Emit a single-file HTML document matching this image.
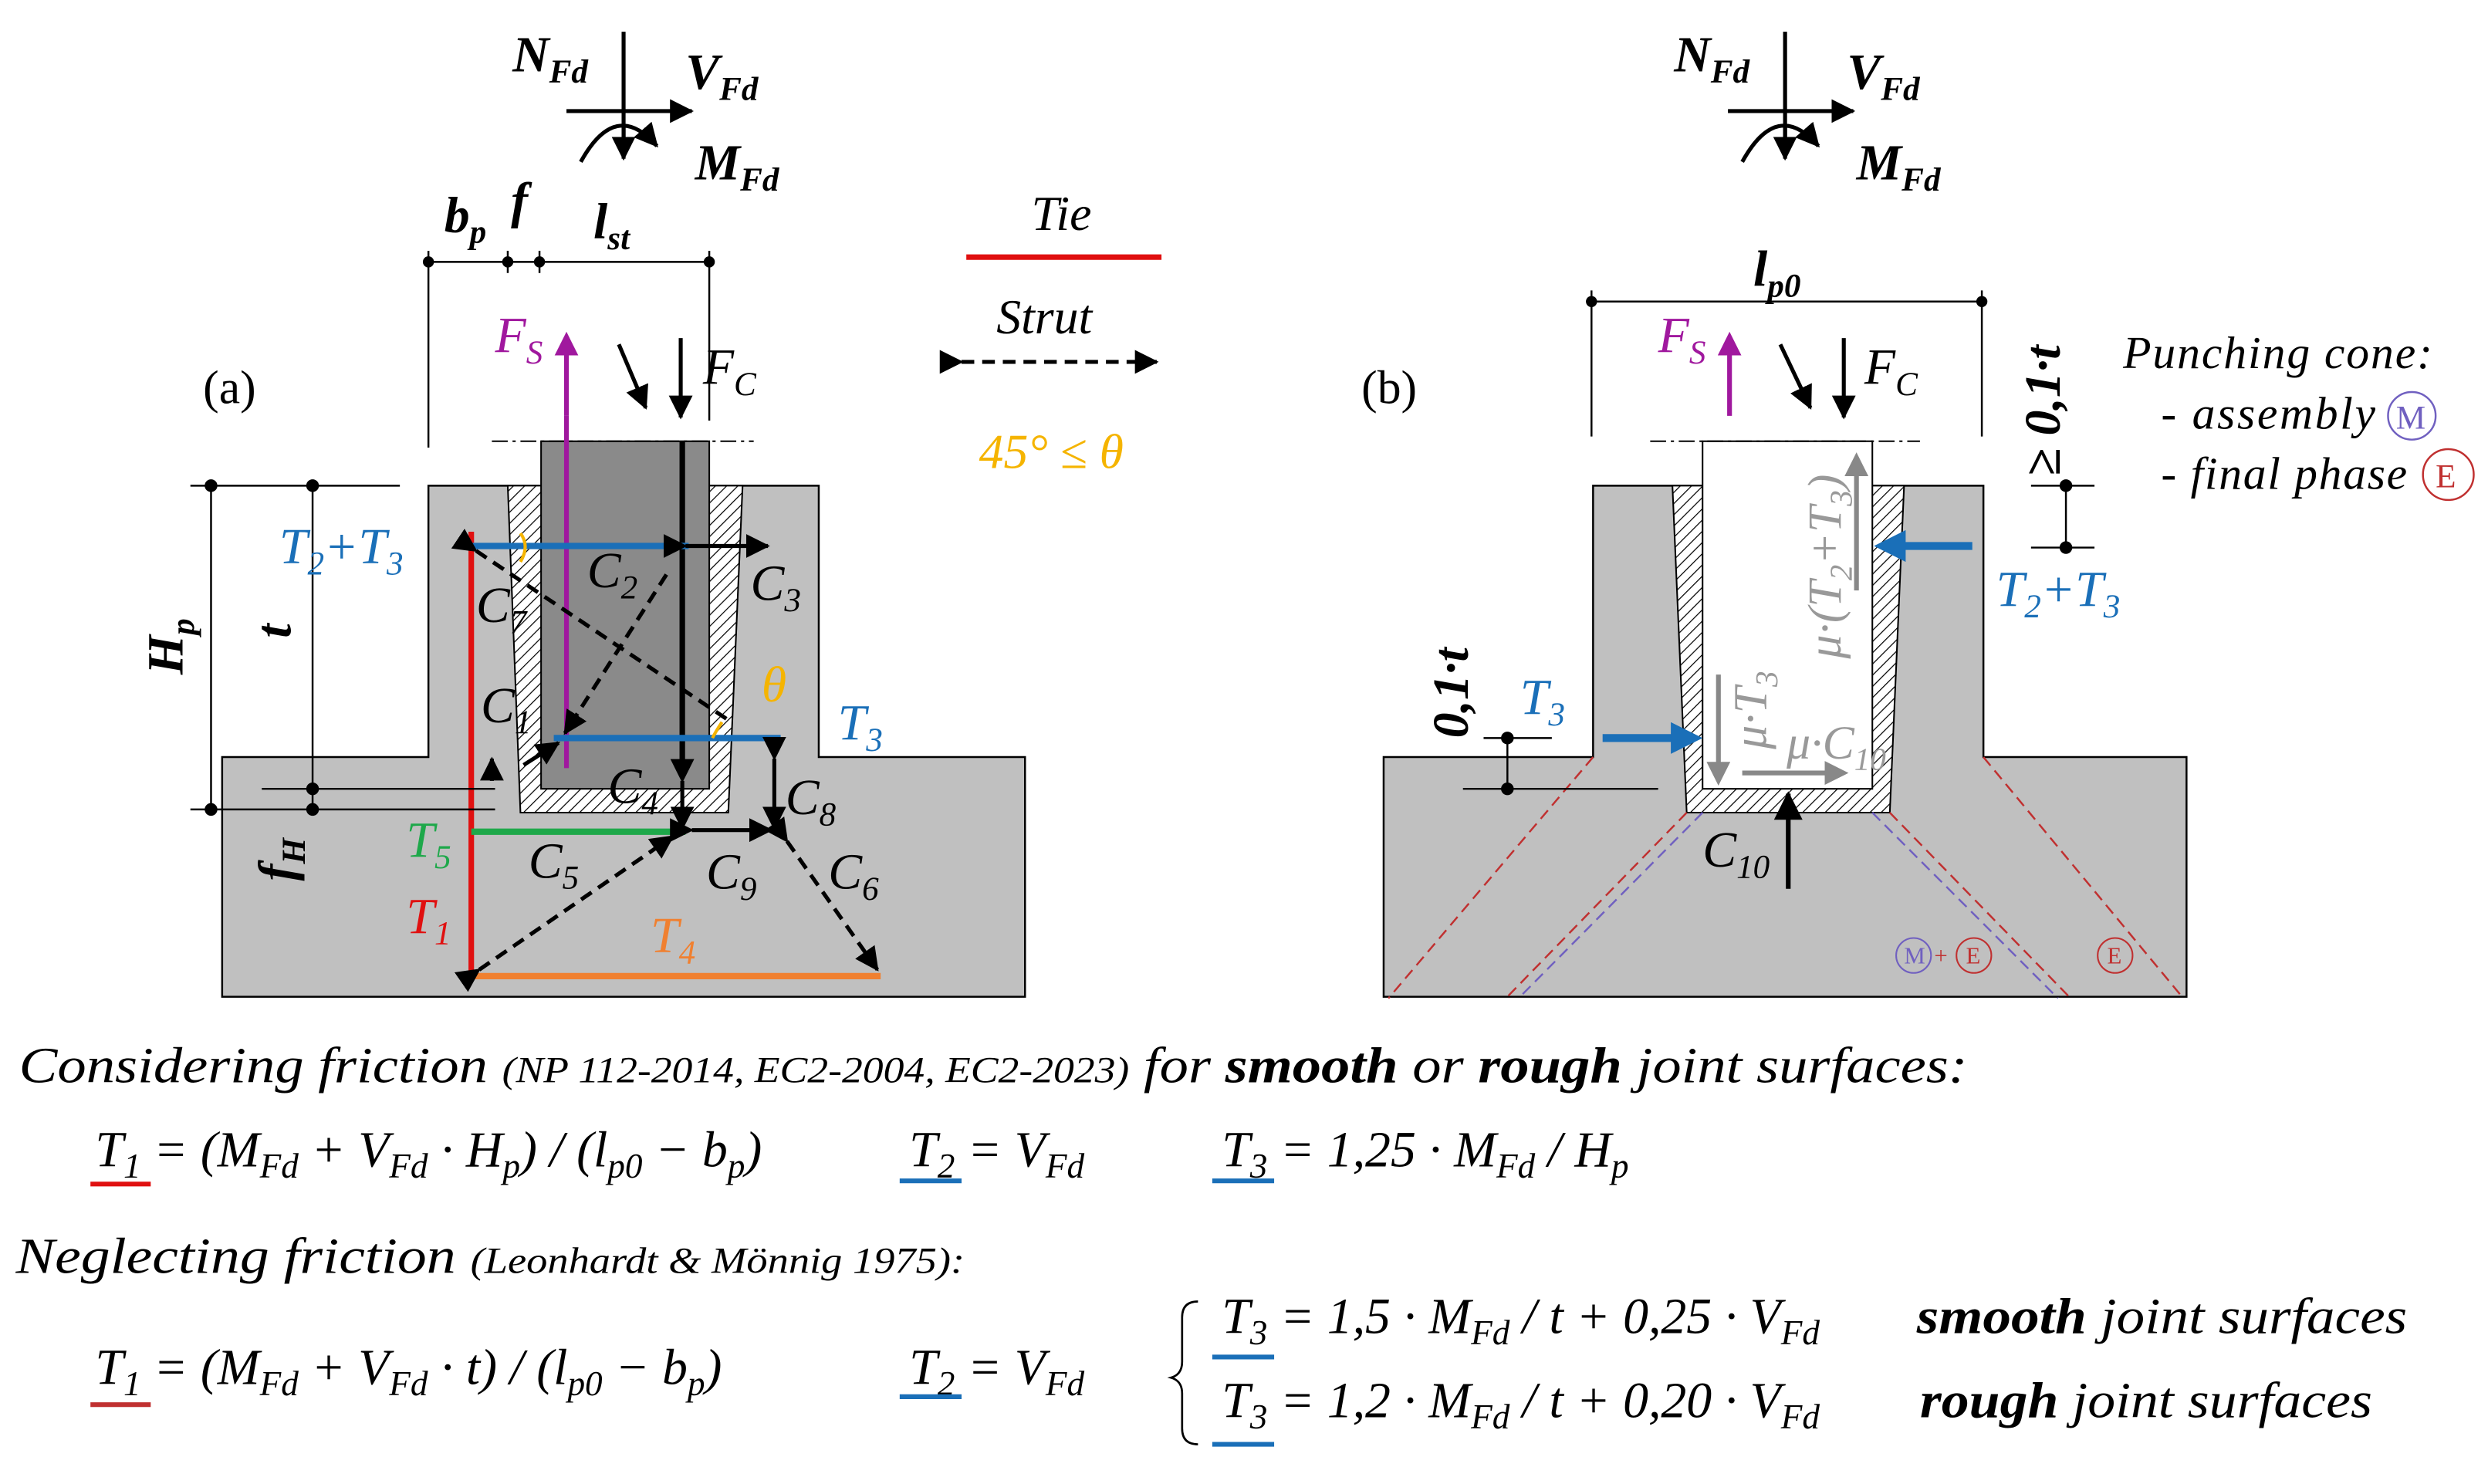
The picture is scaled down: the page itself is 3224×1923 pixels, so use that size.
<!DOCTYPE html>
<html><head><meta charset="utf-8"><style>html,body{margin:0;padding:0;background:#fff}svg{display:block;font-family:"Liberation Serif",serif;font-style:italic}</style></head><body>
<svg width="3224" height="1923" viewBox="0 0 1568 935" preserveAspectRatio="none" xmlns="http://www.w3.org/2000/svg" style="font-family:'Liberation Serif',serif;font-style:italic">
<defs>
<pattern id="h" width="5" height="5" patternUnits="userSpaceOnUse" patternTransform="rotate(45)"><rect width="5" height="5" fill="#fff"/><line x1="0" y1="0" x2="0" y2="5" stroke="#000" stroke-width="1.2"/></pattern>
<marker id="ap" markerWidth="5" markerHeight="5" refX="4" refY="2.5" orient="auto" markerUnits="strokeWidth"><path d="M0,0 L5,2.5 L0,5z" fill="#a0189e"/></marker>
<marker id="abl" markerWidth="4" markerHeight="4" refX="3" refY="2" orient="auto" markerUnits="strokeWidth"><path d="M0,0 L4,2 L0,4z" fill="#1a6fb8"/></marker>
<marker id="ag" markerWidth="5" markerHeight="5" refX="4" refY="2.5" orient="auto" markerUnits="strokeWidth"><path d="M0,0 L5,2.5 L0,5z" fill="#888"/></marker>
<marker id="as" markerWidth="6" markerHeight="6" refX="5.5" refY="3" orient="auto" markerUnits="strokeWidth"><path d="M0,0 L6,3 L0,6z" fill="#000"/></marker>
</defs>
<rect width="1568" height="935" fill="#fff"/>

<!-- ===== (a) ===== -->
<path d="M140,477 H270 V306 H516 V477 H646 V628 H140Z" fill="#c0c0c0" stroke="#000" stroke-width="1.2"/>
<path d="M320,306 H468 L459,512 H328Z" fill="url(#h)" stroke="#000" stroke-width="1"/>
<rect x="341" y="278" width="106" height="219" fill="#8a8a8a" stroke="#000" stroke-width="1"/>
<line x1="310" y1="278" x2="475" y2="278" stroke="#000" stroke-width="1" stroke-dasharray="10,3,2,3"/>
<line x1="357" y1="262" x2="357" y2="484" stroke="#a0189e" stroke-width="3"/>
<line x1="430" y1="278" x2="430" y2="488" stroke="#000" stroke-width="3.5"/>
<line x1="297" y1="335" x2="297" y2="617" stroke="#e01010" stroke-width="3.5"/>
<line x1="297" y1="344" x2="434" y2="344" stroke="#1a6fb8" stroke-width="4"/>
<line x1="349" y1="465" x2="492" y2="465" stroke="#1a6fb8" stroke-width="4"/>
<line x1="297" y1="524" x2="432" y2="524" stroke="#1ea84a" stroke-width="4"/>
<line x1="297" y1="615" x2="555" y2="615" stroke="#f08030" stroke-width="4"/>
<g stroke="#000" stroke-width="2.5" stroke-dasharray="8,5" fill="none">
<line x1="300" y1="347" x2="458" y2="453" marker-start="url(#as)"/>
<line x1="420" y1="362" x2="356" y2="462" marker-end="url(#as)"/>
<line x1="302" y1="611" x2="424" y2="527" marker-start="url(#as)" marker-end="url(#as)"/>
<line x1="496" y1="530" x2="553" y2="611" marker-start="url(#as)" marker-end="url(#as)"/>
</g>
<g stroke="#000" stroke-width="2.5" fill="none">
<line x1="432" y1="344" x2="484" y2="344" marker-start="url(#as)" marker-end="url(#as)"/>
<line x1="430" y1="492" x2="430" y2="522" marker-start="url(#as)" marker-end="url(#as)"/>
<line x1="436" y1="523" x2="486" y2="523" marker-start="url(#as)" marker-end="url(#as)"/>
<line x1="488" y1="478" x2="488" y2="522" marker-start="url(#as)" marker-end="url(#as)"/>
<line x1="310" y1="492" x2="310" y2="478" marker-end="url(#as)"/>
<line x1="330" y1="482" x2="352" y2="468" marker-end="url(#as)"/>
</g>
<path d="M328,336 q6,8 0,18 M455,455 q-4,6 -6,10" stroke="#f5b400" stroke-width="2" fill="none"/>
<g stroke="#000" stroke-width="1.2">
<line x1="120" y1="306" x2="252" y2="306"/><line x1="120" y1="510" x2="312" y2="510"/><line x1="165" y1="497" x2="312" y2="497"/>
<line x1="133" y1="306" x2="133" y2="510"/><line x1="197" y1="306" x2="197" y2="510"/>
<line x1="270" y1="165" x2="447" y2="165"/><line x1="270" y1="158" x2="270" y2="282"/><line x1="447" y1="158" x2="447" y2="265"/>
<line x1="320" y1="158" x2="320" y2="172"/><line x1="340" y1="158" x2="340" y2="172"/>
</g>
<g fill="#000"><circle cx="133" cy="306" r="4"/><circle cx="133" cy="510" r="4"/><circle cx="197" cy="306" r="4"/><circle cx="197" cy="497" r="4"/><circle cx="197" cy="510" r="4"/>
<circle cx="270" cy="165" r="3.5"/><circle cx="320" cy="165" r="3.5"/><circle cx="340" cy="165" r="3.5"/><circle cx="447" cy="165" r="3.5"/></g>

<g font-size="32" font-weight="bold">
<text x="280" y="146">b<tspan font-size="21" dy="7">p</tspan></text>
<text x="322" y="137">f</text>
<text x="374" y="150">l<tspan font-size="21" dy="7">st</tspan></text>
<text transform="translate(115,425) rotate(-90)">H<tspan font-size="21" dy="7">p</tspan></text>
<text transform="translate(183,402) rotate(-90)">t</text>
<text transform="translate(185,555) rotate(-90)">f<tspan font-size="21" dy="7">H</tspan></text>
</g>
<text x="128" y="254" font-size="30" font-style="normal">(a)</text>
<line x1="357" y1="262" x2="357" y2="212" stroke="#a0189e" stroke-width="3" marker-end="url(#ap)"/>
<text x="312" y="222" font-size="32" fill="#a0189e">F<tspan font-size="21" dy="7">S</tspan></text>
<line x1="390" y1="217" x2="407" y2="257" stroke="#000" stroke-width="2.5" marker-end="url(#as)"/>
<line x1="429" y1="213" x2="429" y2="263" stroke="#000" stroke-width="2.5" marker-end="url(#as)"/>
<text x="443" y="242" font-size="32">F<tspan font-size="21" dy="7">C</tspan></text>
<g font-size="32">
<text x="176" y="355" fill="#1a6fb8">T<tspan font-size="21" dy="7">2</tspan><tspan dy="-7">+T</tspan><tspan font-size="21" dy="7">3</tspan></text>
<text x="370" y="370">C<tspan font-size="21" dy="7">2</tspan></text>
<text x="473" y="378">C<tspan font-size="21" dy="7">3</tspan></text>
<text x="300" y="392">C<tspan font-size="21" dy="7">7</tspan></text>
<text x="303" y="455">C<tspan font-size="21" dy="7">1</tspan></text>
<text x="480" y="442" fill="#f5b400">θ</text>
<text x="528" y="466" fill="#1a6fb8">T<tspan font-size="21" dy="7">3</tspan></text>
<text x="383" y="506">C<tspan font-size="21" dy="7">4</tspan></text>
<text x="495" y="513">C<tspan font-size="21" dy="7">8</tspan></text>
<text x="256" y="540" fill="#1ea84a">T<tspan font-size="21" dy="7">5</tspan></text>
<text x="333" y="553">C<tspan font-size="21" dy="7">5</tspan></text>
<text x="445" y="560">C<tspan font-size="21" dy="7">9</tspan></text>
<text x="522" y="560">C<tspan font-size="21" dy="7">6</tspan></text>
<text x="256" y="588" fill="#e01010">T<tspan font-size="21" dy="7">1</tspan></text>
<text x="410" y="600" fill="#f08030">T<tspan font-size="21" dy="7">4</tspan></text>
</g>

<text x="650" y="145" font-size="31">Tie</text>
<line x1="609" y1="162" x2="732" y2="162" stroke="#e01010" stroke-width="3.5"/>
<text x="628" y="210" font-size="31">Strut</text>
<line x1="606" y1="228" x2="729" y2="228" stroke="#000" stroke-width="2.5" stroke-dasharray="8,5" marker-start="url(#as)" marker-end="url(#as)"/>
<text x="617" y="295" font-size="31" fill="#f5b400">45° ≤ θ</text>

<g id="loads">
<line x1="393" y1="20" x2="393" y2="92" stroke="#000" stroke-width="2.5"/>
<line x1="357" y1="70" x2="436" y2="70" stroke="#000" stroke-width="2.5" marker-end="url(#as)"/>
<path d="M366,102 Q388,62 414,92" stroke="#000" stroke-width="2.5" fill="none" marker-end="url(#as)"/>
<line x1="393" y1="80" x2="393" y2="100" stroke="#000" stroke-width="2.5" marker-end="url(#as)"/>
<text x="323" y="45" font-size="32" font-weight="bold">N<tspan font-size="21" dy="7">Fd</tspan></text>
<text x="432" y="56" font-size="32" font-weight="bold">V<tspan font-size="21" dy="7">Fd</tspan></text>
<text x="438" y="113" font-size="32" font-weight="bold">M<tspan font-size="21" dy="7">Fd</tspan></text>
</g>
<use href="#loads" transform="translate(732,0)"/>

<!-- ===== (b) ===== -->
<path d="M872,477 H1004 V306 H1250 V477 H1378 V628 H872Z" fill="#c0c0c0" stroke="#000" stroke-width="1.2"/>
<path d="M1054,306 H1200 L1191,512 H1063Z" fill="url(#h)" stroke="#000" stroke-width="1"/>
<rect x="1073" y="278" width="107" height="219" fill="#fff" stroke="#000" stroke-width="1"/>
<line x1="1040" y1="278" x2="1210" y2="278" stroke="#000" stroke-width="1" stroke-dasharray="10,3,2,3"/>
<g stroke-width="1.2" stroke-dasharray="7,4" fill="none">
<line x1="1004" y1="477" x2="875" y2="629" stroke="#c03030"/>
<line x1="1063" y1="512" x2="949" y2="629" stroke="#c03030"/>
<line x1="1073" y1="512" x2="957" y2="629" stroke="#7060c0"/>
<line x1="1250" y1="477" x2="1376" y2="629" stroke="#c03030"/>
<line x1="1191" y1="512" x2="1305" y2="629" stroke="#c03030"/>
<line x1="1180" y1="512" x2="1297" y2="629" stroke="#7060c0"/>
</g>
<g stroke="#000" stroke-width="1.2">
<line x1="1003" y1="190" x2="1249" y2="190"/><line x1="1003" y1="183" x2="1003" y2="275"/><line x1="1249" y1="183" x2="1249" y2="275"/>
<line x1="1280" y1="306" x2="1320" y2="306"/><line x1="1280" y1="345" x2="1320" y2="345"/><line x1="1302" y1="306" x2="1302" y2="345"/>
<line x1="935" y1="465" x2="978" y2="465"/><line x1="922" y1="497" x2="1045" y2="497"/><line x1="950" y1="465" x2="950" y2="497"/>
</g>
<g fill="#000"><circle cx="1003" cy="190" r="3.5"/><circle cx="1249" cy="190" r="3.5"/><circle cx="1302" cy="306" r="4"/><circle cx="1302" cy="345" r="4"/><circle cx="950" cy="465" r="4"/><circle cx="950" cy="497" r="4"/></g>
<text x="1105" y="180" font-size="32" font-weight="bold">l<tspan font-size="21" dy="7">p0</tspan></text>
<text transform="translate(1298,300) rotate(-90)" font-size="32" font-weight="bold">≥ 0,1·t</text>
<text transform="translate(925,465) rotate(-90)" font-size="32" font-weight="bold">0,1·t</text>
<text x="858" y="254" font-size="30" font-style="normal">(b)</text>
<line x1="1090" y1="262" x2="1090" y2="212" stroke="#a0189e" stroke-width="3" marker-end="url(#ap)"/>
<text x="1045" y="222" font-size="32" fill="#a0189e">F<tspan font-size="21" dy="7">S</tspan></text>
<line x1="1122" y1="217" x2="1141" y2="257" stroke="#000" stroke-width="2.5" marker-end="url(#as)"/>
<line x1="1162" y1="213" x2="1162" y2="263" stroke="#000" stroke-width="2.5" marker-end="url(#as)"/>
<text x="1175" y="242" font-size="32">F<tspan font-size="21" dy="7">C</tspan></text>
<line x1="1243" y1="344" x2="1186" y2="344" stroke="#1a6fb8" stroke-width="5" marker-end="url(#abl)"/>
<line x1="1010" y1="465" x2="1068" y2="465" stroke="#1a6fb8" stroke-width="5" marker-end="url(#abl)"/>
<text x="1258" y="382" font-size="32" fill="#1a6fb8">T<tspan font-size="21" dy="7">2</tspan><tspan dy="-7">+T</tspan><tspan font-size="21" dy="7">3</tspan></text>
<text x="958" y="450" font-size="32" fill="#1a6fb8">T<tspan font-size="21" dy="7">3</tspan></text>
<g stroke="#888" stroke-width="3" fill="none">
<line x1="1170" y1="372" x2="1170" y2="288" marker-end="url(#ag)"/>
<line x1="1083" y1="425" x2="1083" y2="492" marker-end="url(#ag)"/>
<line x1="1098" y1="487" x2="1162" y2="487" marker-end="url(#ag)"/>
</g>
<g font-size="30" fill="#999">
<text transform="translate(1160,415) rotate(-90)">μ·(T<tspan font-size="20" dy="7">2</tspan><tspan dy="-7">+T</tspan><tspan font-size="20" dy="7">3</tspan><tspan dy="-7">)</tspan></text>
<text transform="translate(1113,472) rotate(-90)">μ·T<tspan font-size="20" dy="7">3</tspan></text>
<text x="1126" y="478">μ·C<tspan font-size="20" dy="7">10</tspan></text>
</g>
<line x1="1127" y1="560" x2="1127" y2="500" stroke="#000" stroke-width="3" marker-end="url(#as)"/>
<text x="1073" y="546" font-size="32">C<tspan font-size="21" dy="7">10</tspan></text>
<g font-size="15" font-style="normal">
<circle cx="1206" cy="602" r="11" fill="none" stroke="#7060c0"/><text x="1200" y="607" fill="#7060c0">M</text>
<text x="1219" y="607" fill="#c03030">+</text>
<circle cx="1244" cy="602" r="11" fill="none" stroke="#c03030"/><text x="1239" y="607" fill="#c03030">E</text>
<circle cx="1333" cy="602" r="11" fill="none" stroke="#c03030"/><text x="1328" y="607" fill="#c03030">E</text>
</g>
<g font-size="29">
<text x="1338" y="232" textLength="195">Punching cone:</text>
<text x="1362" y="270" textLength="135">- assembly</text>
<text x="1362" y="308" textLength="155">- final phase</text>
</g>
<circle cx="1520" cy="262" r="15" fill="none" stroke="#7060c0" stroke-width="1.2"/><text x="1510" y="270" font-size="21" font-style="normal" fill="#7060c0">M</text>
<circle cx="1543" cy="299" r="16" fill="none" stroke="#c03030" stroke-width="1.2"/><text x="1535" y="307" font-size="21" font-style="normal" fill="#c03030">E</text>

<!-- ===== equations ===== -->
<g font-size="32">
<text x="12" y="682" textLength="1228" lengthAdjust="spacingAndGlyphs">Considering friction <tspan font-size="23">(NP 112-2014,  EC2-2004, EC2-2023)</tspan> for <tspan font-weight="bold">smooth</tspan> or <tspan font-weight="bold">rough</tspan> joint surfaces:</text>
<text x="60" y="735">T<tspan font-size="22" dy="7">1</tspan><tspan dy="-7"> = (M</tspan><tspan font-size="22" dy="7">Fd</tspan><tspan dy="-7"> + V</tspan><tspan font-size="22" dy="7">Fd</tspan><tspan dy="-7"> · H</tspan><tspan font-size="22" dy="7">p</tspan><tspan dy="-7">) / (l</tspan><tspan font-size="22" dy="7">p0</tspan><tspan dy="-7"> − b</tspan><tspan font-size="22" dy="7">p</tspan><tspan dy="-7">)</tspan></text>
<text x="573" y="735">T<tspan font-size="22" dy="7">2</tspan><tspan dy="-7"> = V</tspan><tspan font-size="22" dy="7">Fd</tspan></text>
<text x="770" y="735">T<tspan font-size="22" dy="7">3</tspan><tspan dy="-7"> = 1,25 · M</tspan><tspan font-size="22" dy="7">Fd</tspan><tspan dy="-7"> / H</tspan><tspan font-size="22" dy="7">p</tspan></text>
<text x="10" y="802" textLength="598" lengthAdjust="spacingAndGlyphs">Neglecting friction <tspan font-size="23">(Leonhardt &amp; Mönnig 1975):</tspan></text>
<text x="60" y="872">T<tspan font-size="22" dy="7">1</tspan><tspan dy="-7"> = (M</tspan><tspan font-size="22" dy="7">Fd</tspan><tspan dy="-7"> + V</tspan><tspan font-size="22" dy="7">Fd</tspan><tspan dy="-7"> · t) / (l</tspan><tspan font-size="22" dy="7">p0</tspan><tspan dy="-7"> − b</tspan><tspan font-size="22" dy="7">p</tspan><tspan dy="-7">)</tspan></text>
<text x="573" y="872">T<tspan font-size="22" dy="7">2</tspan><tspan dy="-7"> = V</tspan><tspan font-size="22" dy="7">Fd</tspan></text>
<text x="770" y="840">T<tspan font-size="22" dy="7">3</tspan><tspan dy="-7"> = 1,5 · M</tspan><tspan font-size="22" dy="7">Fd</tspan><tspan dy="-7"> / t + 0,25 · V</tspan><tspan font-size="22" dy="7">Fd</tspan></text>
<text x="770" y="893">T<tspan font-size="22" dy="7">3</tspan><tspan dy="-7"> = 1,2 · M</tspan><tspan font-size="22" dy="7">Fd</tspan><tspan dy="-7"> / t + 0,20 · V</tspan><tspan font-size="22" dy="7">Fd</tspan></text>
<text x="1208" y="840" textLength="309" lengthAdjust="spacingAndGlyphs"><tspan font-weight="bold">smooth</tspan> joint surfaces</text>
<text x="1210" y="893" textLength="285" lengthAdjust="spacingAndGlyphs"><tspan font-weight="bold">rough</tspan> joint surfaces</text>
</g>
<path d="M755,820 Q745,820 745,830 V858 Q745,866 738,868 Q745,870 745,878 V900 Q745,910 755,910" stroke="#000" stroke-width="1.3" fill="none"/>
<g stroke-width="3">
<line x1="57" y1="746" x2="95" y2="746" stroke="#e01010"/><line x1="567" y1="744" x2="606" y2="744" stroke="#1a6fb8"/><line x1="764" y1="744" x2="803" y2="744" stroke="#1a6fb8"/>
<line x1="57" y1="885" x2="95" y2="885" stroke="#c03030"/><line x1="567" y1="880" x2="606" y2="880" stroke="#1a6fb8"/>
<line x1="764" y1="855" x2="803" y2="855" stroke="#1a6fb8"/><line x1="764" y1="910" x2="803" y2="910" stroke="#1a6fb8"/>
</g>
</svg>
</body></html>
